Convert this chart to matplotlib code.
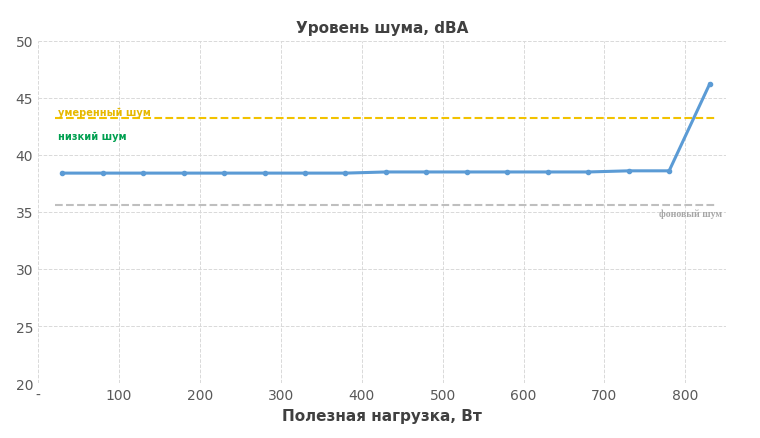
import matplotlib
matplotlib.use("Agg")
import matplotlib.pyplot as plt

load_w = [30, 80, 130, 180, 230, 280, 330, 380, 430, 480, 530, 580, 630, 680, 730, 780, 830]
noise_dba = [38.4, 38.4, 38.4, 38.4, 38.4, 38.4, 38.4, 38.4, 38.5, 38.5, 38.5, 38.5, 38.5, 38.5, 38.6, 38.6, 46.2]
moderate_level = 43.2
background_level = 35.6
x_ticks = [0, 100, 200, 300, 400, 500, 600, 700, 800]
x_labels = ["-", "100", "200", "300", "400", "500", "600", "700", "800"]

fig, ax = plt.subplots(figsize=(7.6, 4.39), dpi=100)
fig.subplots_adjust(left=0.05, right=0.955, top=0.905, bottom=0.125)

ax.axhline(moderate_level, color="#f2c200", ls="--", lw=1.5, xmin=0.025, xmax=0.985)
ax.axhline(background_level, color="#bfbfbf", ls="--", lw=1.5, xmin=0.025, xmax=0.985)
ax.plot(load_w, noise_dba, color="#5b9bd5", lw=2.2, marker="o", ms=3, zorder=3)

ax.text(25, 43.5, "умеренный шум", color="#e6b800", fontsize=7, fontweight="bold")
ax.text(25, 41.4, "низкий шум", color="#00a050", fontsize=7, fontweight="bold")
ax.text(845, 35.3, "фоновый шум", color="#a6a6a6", fontsize=7, fontweight="bold",
        family="Liberation Serif", ha="right", va="top")

ax.set_xlim(0, 850)
ax.set_ylim(20, 50)
ax.set_xticks(x_ticks)
ax.set_xticklabels(x_labels)
ax.set_yticks(range(20, 51, 5))
ax.grid(True, color="#d9d9d9", ls="--", lw=0.7)
ax.set_axisbelow(True)
for s in ax.spines.values():
    s.set_visible(False)
ax.tick_params(length=0, labelsize=10, colors="#595959")
ax.set_xlabel("Полезная нагрузка, Вт", fontsize=11, fontweight="bold", color="#404040")
ax.set_title("Уровень шума, dBA", fontsize=11, fontweight="bold", color="#404040")

fig.savefig("out.png", dpi=100)
